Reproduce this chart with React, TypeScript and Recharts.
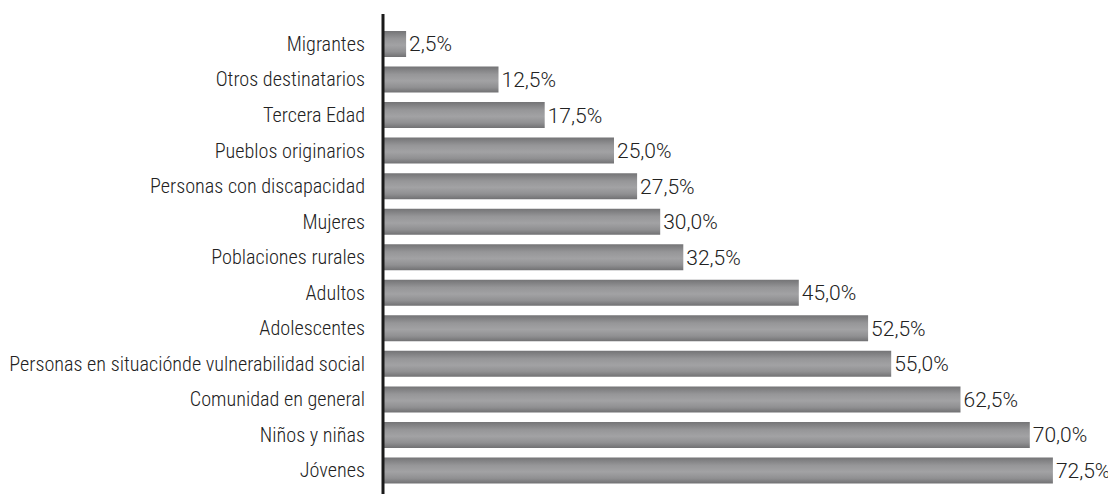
import React from 'react';
import { BarChart, Bar, XAxis, YAxis, LabelList } from 'recharts';

const CATEGORIES = [
  'Migrantes',
  'Otros destinatarios',
  'Tercera Edad',
  'Pueblos originarios',
  'Personas con discapacidad',
  'Mujeres',
  'Poblaciones rurales',
  'Adultos',
  'Adolescentes',
  'Personas en situaciónde vulnerabilidad social',
  'Comunidad en general',
  'Niños y niñas',
  'Jóvenes',
];
const VALUES = [2.5, 12.5, 17.5, 25.0, 27.5, 30.0, 32.5, 45.0, 52.5, 55.0, 62.5, 70.0, 72.5];

const data = CATEGORIES.map((name, i) => ({ name, value: VALUES[i] }));

const LABEL_FONT = '"Roboto Condensed", "Liberation Sans Narrow", sans-serif';
const VALUE_FONT = 'Roboto, "Open Sans", sans-serif';

export default function App() {
  return (
    <div style={{ width: 1108, height: 486 }}>
      <BarChart
        width={1108}
        height={486}
        data={data}
        layout="vertical"
        margin={{ top: 6, right: 40, left: 0, bottom: 0 }}
        barCategoryGap={0}
      >
        <defs>
          <linearGradient id="barFill" x1="0" y1="0" x2="0" y2="1">
            <stop offset="0%" stopColor="#747476" />
            <stop offset="30%" stopColor="#969698" />
            <stop offset="55%" stopColor="#a2a2a4" />
            <stop offset="80%" stopColor="#909092" />
            <stop offset="100%" stopColor="#717173" />
          </linearGradient>
        </defs>
        <XAxis type="number" domain={[0, 75]} hide />
        <YAxis
          type="category"
          dataKey="name"
          width={375}
          padding={{ top: 12, bottom: 6 }}
          axisLine={{ stroke: '#1a1a1a', strokeWidth: 3 }}
          tickLine={false}
          tickMargin={12}
          interval={0}
          tick={{ fontSize: 20.2, fill: '#222', fontFamily: LABEL_FONT, fontWeight: 300 }}
        />
        <Bar dataKey="value" fill="url(#barFill)" barSize={26} isAnimationActive={false}>
          <LabelList
            dataKey="value"
            position="right"
            offset={3}
            formatter={(v: number) => `${v.toFixed(1).replace('.', ',')}%`}
            style={{ fontSize: 21, fill: '#222', fontFamily: VALUE_FONT, fontWeight: 300 }}
          />
        </Bar>
      </BarChart>
    </div>
  );
}
